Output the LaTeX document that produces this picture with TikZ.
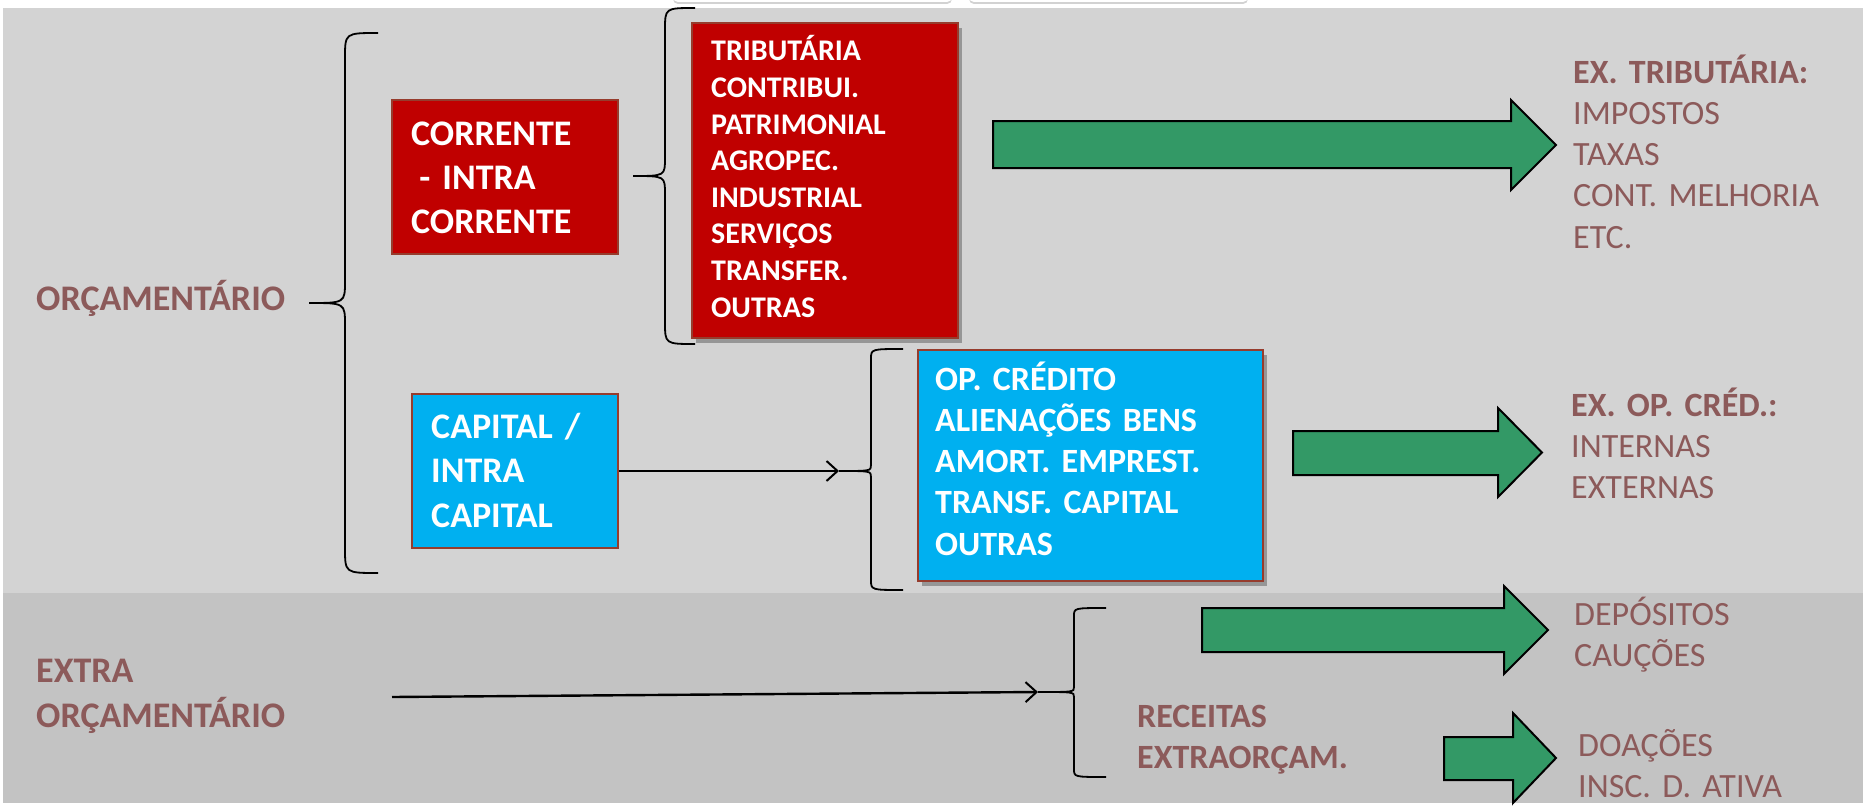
\documentclass[tikz,border=0pt]{standalone}
\usepackage{fontspec}
\setmainfont{Carlito}
\usetikzlibrary{shadows,arrows.meta,calc}

\definecolor{bglight}{RGB}{211,211,211}
\definecolor{bgdark}{RGB}{195,195,195}
\definecolor{boxred}{RGB}{192,0,0}
\definecolor{boxblue}{RGB}{0,176,240}
\definecolor{boxedge}{RGB}{150,60,45}
\definecolor{arrowgreen}{RGB}{51,153,102}
\definecolor{labelbrown}{RGB}{140,90,90}

% vertical curly brace opening to the right, point on the left
% #1 tip x, #2 spine x, #3 point x, #4 top y, #5 point y, #6 bottom y,
% #7 end curl size, #8 middle curl size
\newcommand{\drawcurlybrace}[8]{%
  \draw[bracestyle] (#1,#4) .. controls ({#2},{#4}) and ({#2},{#4}) .. ({#2},{#4+#7})
    -- ({#2},{#5-#8}) .. controls ({#2},{#5}) and ({#2},{#5}) .. (#3,#5)
    .. controls ({#2},{#5}) and ({#2},{#5}) .. ({#2},{#5+#8})
    -- ({#2},{#6-#7}) .. controls ({#2},{#6}) and ({#2},{#6}) .. (#1,#6);}

% block arrow: #1 tail x, #2 head base x, #3 tip x, #4 body top, #5 body bottom,
% #6 head top, #7 head bottom
\newcommand{\drawblockarrow}[7]{%
  \draw[greenarrow] (#1,#4) -- (#2,#4) -- (#2,#6) -- (#3,{(#6+#7)/2}) -- (#2,#7)
    -- (#2,#5) -- (#1,#5) -- cycle;}

\begin{document}
\begin{tikzpicture}[x=1pt,y=-1pt,
  redbox/.style={fill=boxred, draw=boxedge, line width=1.6pt, inner sep=0pt},
  bluebox/.style={fill=boxblue, draw=boxedge, line width=1.6pt, inner sep=0pt},
  boxshadow/.style={drop shadow={shadow xshift=4pt, shadow yshift=-5pt, opacity=0.45, fill=black!70}},
  boxtext/.style={anchor=base west, inner sep=0pt, align=left, text width=420pt, text=white},
  bigwhite/.style={boxtext, font=\fontsize{36}{44}\selectfont\bfseries},
  brownlabel/.style={anchor=base west, inner sep=0pt, align=left, text width=420pt, text=labelbrown},
  bracestyle/.style={draw=black, line width=1.8pt},
  connector/.style={draw=black, line width=2.4pt, -{Straight Barb[length=11pt,width=20pt,line width=2pt]}},
  greenarrow/.style={fill=arrowgreen, draw=black, line width=2pt, line join=miter}
]
\useasboundingbox (0,0) rectangle (1865,808);
\clip (0,0) rectangle (1865,808);

% background bands
\fill[white] (0,0) rectangle (1865,808);
\fill[bglight] (3,8) rectangle (1863,593);
\fill[bgdark] (3,593) rectangle (1863,803);

% white tabs along the top edge
\fill[white, rounded corners=5pt, drop shadow={shadow xshift=0pt, shadow yshift=-2pt, opacity=0.35}] (673,-30) rectangle (952,2);
\fill[white, rounded corners=5pt, drop shadow={shadow xshift=0pt, shadow yshift=-2pt, opacity=0.35}] (969,-30) rectangle (1248,2);

% braces
\drawcurlybrace{378}{345}{309}{33}{303}{573}{25}{22}
\drawcurlybrace{695}{665}{633}{8}{176}{344}{22}{18}
\drawcurlybrace{903}{871}{839}{349}{471}{590}{10}{6}
\drawcurlybrace{1106}{1074}{1038}{608}{692}{777}{8}{5}
\coordinate (capbrace) at (839,471);
\coordinate (extrabrace) at (1038,692);

% category boxes
\node[redbox, minimum width=226pt, minimum height=154pt] (corrente) at (505,177) {};
\node[redbox, boxshadow, minimum width=266pt, minimum height=315pt] (correntelist) at (825,180.5) {};
\node[bluebox, minimum width=206pt, minimum height=154pt] (capital) at (515,471) {};
\node[bluebox, boxshadow, minimum width=345pt, minimum height=231pt] (capitallist) at (1090.5,465.5) {};

\node[bigwhite] (correntetext) at (411,145) {CORRENTE\\\hspace*{0.23em}- INTRA\\CORRENTE};
\node[boxtext, font=\fontsize{30}{36.6}\selectfont\bfseries] (correntelisttext) at (711,61)
  {TRIBUTÁRIA\\CONTRIBUI.\\PATRIMONIAL\\AGROPEC.\\INDUSTRIAL\\SERVIÇOS\\TRANSFER.\\OUTRAS};
\node[boxtext, font=\fontsize{36}{44.5}\selectfont\bfseries] (capitaltext) at (431,438) {CAPITAL /\\INTRA\\CAPITAL};
\node[boxtext, font=\fontsize{34}{41.3}\selectfont\bfseries] (capitallisttext) at (935,390)
  {OP. CRÉDITO\\ALIENAÇÕES BENS\\AMORT. EMPREST.\\TRANSF. CAPITAL\\OUTRAS};

% left labels
\node[brownlabel, font=\fontsize{36}{44}\selectfont\bfseries] (orcamentario) at (36,310) {ORÇAMENTÁRIO};
\node[brownlabel, font=\fontsize{36}{45}\selectfont\bfseries] (extra) at (36,682) {EXTRA\\ORÇAMENTÁRIO};
\node[brownlabel, font=\fontsize{34}{41}\selectfont\bfseries] (receitas) at (1137,727) {RECEITAS\\EXTRAORÇAM.};

% green block arrows
\drawblockarrow{993}{1511}{1556}{121}{168}{100}{190}
\drawblockarrow{1293}{1498}{1542}{431}{475}{408}{497}
\drawblockarrow{1202}{1504}{1548}{608}{652}{586}{674}
\drawblockarrow{1444}{1513}{1556}{737}{780}{713}{803}

% examples on the right
\node[brownlabel, font=\fontsize{34}{41.3}\selectfont] (extrib) at (1573,83)
  {\textbf{EX. TRIBUTÁRIA:}\\IMPOSTOS\\TAXAS\\CONT. MELHORIA\\ETC.};
\node[brownlabel, font=\fontsize{34}{41}\selectfont] (exop) at (1571,416)
  {\textbf{EX. OP. CRÉD.:}\\INTERNAS\\EXTERNAS};
\node[brownlabel, font=\fontsize{34}{41}\selectfont] (depositos) at (1574,625) {DEPÓSITOS\\CAUÇÕES};
\node[brownlabel, font=\fontsize{34}{41}\selectfont] (doacoes) at (1578,756) {DOAÇÕES\\INSC. D. ATIVA};

% connectors
\coordinate (extrastart) at (392,697);
\draw[connector] (capital.east) -- (capbrace);
\draw[connector] (extrastart) -- (extrabrace);
\end{tikzpicture}
\end{document}
